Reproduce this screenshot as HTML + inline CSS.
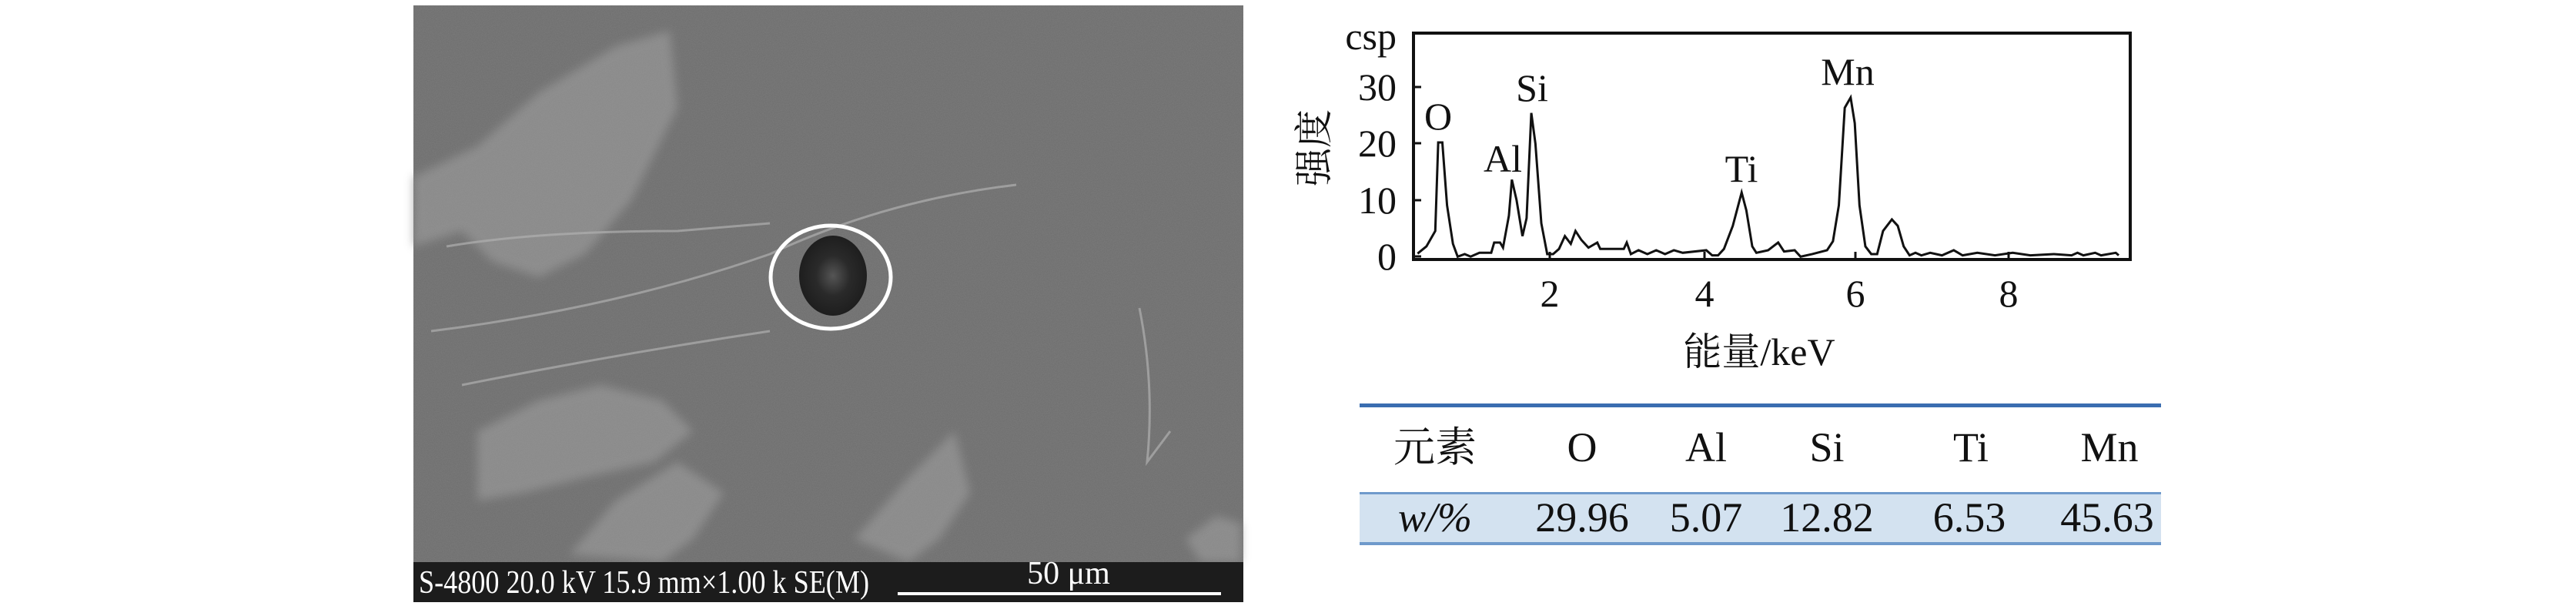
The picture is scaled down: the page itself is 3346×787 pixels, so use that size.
<!DOCTYPE html>
<html><head><meta charset="utf-8"><style>
html,body{margin:0;padding:0;background:#fff;width:3346px;height:787px;overflow:hidden}
svg,text{font-family:"Liberation Serif","Times New Roman","Noto Serif CJK SC","DejaVu Serif",serif !important}
</style></head><body>
<svg width="3346" height="787" viewBox="0 0 3346 787" xmlns="http://www.w3.org/2000/svg" font-family="Liberation Serif, Noto Serif CJK SC, serif">
<defs>
<filter id="n" x="0" y="0" width="100%" height="100%">
<feTurbulence type="fractalNoise" baseFrequency="0.9" numOctaves="2" seed="3"/>
<feColorMatrix type="matrix" values="0 0 0 0 0.43 0 0 0 0 0.43 0 0 0 0 0.43 0 0 0 0.25 0"/>
</filter>
<filter id="b"><feGaussianBlur stdDeviation="6"/></filter>
<radialGradient id="hole" cx="0.5" cy="0.5" r="0.5">
<stop offset="0" stop-color="#555"/><stop offset="0.5" stop-color="#2a2a2a"/><stop offset="1" stop-color="#1e1e1e"/>
</radialGradient>
</defs>
<rect x="537" y="7" width="1078" height="775" fill="#6c6c6c"/>
<g fill="#959595" opacity="0.7" filter="url(#b)">
<polygon points="537,230 620,190 700,120 800,60 870,40 880,140 820,260 760,330 700,360 640,340 600,300 537,320"/>
<polygon points="620,560 700,520 780,500 860,520 900,560 850,600 760,620 680,640 620,650"/>
<polygon points="740,720 800,650 880,600 940,640 900,700 860,730"/>
<polygon points="1110,700 1180,620 1240,560 1260,640 1220,700 1180,730"/>
<polygon points="1540,700 1580,670 1612,680 1612,730 1560,730"/>
</g>
<g stroke="#b0b0b0" stroke-width="3" fill="none" opacity="0.7">
<path d="M580,320 Q700,300 880,300 L1000,290"/>
<path d="M560,430 Q800,400 1000,330 Q1150,260 1320,240"/>
<path d="M600,500 Q800,460 1000,430"/>
<path d="M1480,400 Q1500,500 1490,600 L1520,560"/>
</g>
<rect x="537" y="7" width="1078" height="775" filter="url(#n)"/>
<ellipse cx="1082" cy="358" rx="44" ry="52" fill="url(#hole)"/>
<ellipse cx="1079" cy="360" rx="78" ry="67" fill="none" stroke="#fff" stroke-width="5"/>
<rect x="537" y="730" width="1078" height="52" fill="#1c1c1c"/>
<text x="544" y="770" fill="#fff" font-size="42" textLength="585" lengthAdjust="spacingAndGlyphs">S-4800  20.0 kV  15.9 mm×1.00 k  SE(M)</text>
<text x="1388" y="758" fill="#fff" font-size="42" text-anchor="middle">50 μm</text>
<rect x="1166" y="769" width="420" height="4" fill="#fff"/>

<rect x="1836" y="43" width="931" height="294" fill="none" stroke="#111" stroke-width="4"/>
<g stroke="#111" stroke-width="3">
<line x1="1836" y1="113" x2="1846" y2="113"/><line x1="1836" y1="186" x2="1846" y2="186"/>
<line x1="1836" y1="260" x2="1846" y2="260"/><line x1="1836" y1="333" x2="1846" y2="333"/>
<line x1="2013" y1="337" x2="2013" y2="327"/><line x1="2214" y1="337" x2="2214" y2="327"/>
<line x1="2410" y1="337" x2="2410" y2="327"/><line x1="2609" y1="337" x2="2609" y2="327"/>
</g>
<g font-size="50" fill="#111" text-anchor="end">
<text x="1814" y="64">csp</text>
<text x="1814" y="130">30</text><text x="1814" y="203">20</text>
<text x="1814" y="277">10</text><text x="1814" y="350">0</text>
</g>
<g font-size="50" fill="#111" text-anchor="middle">
<text x="2013" y="398">2</text><text x="2214" y="398">4</text>
<text x="2410" y="398">6</text><text x="2609" y="398">8</text>
<text x="2285" y="474">能量/keV</text>
<text x="1868" y="168">O</text><text x="1952" y="223">Al</text>
<text x="1990" y="131">Si</text><text x="2262" y="236">Ti</text>
<text x="2400" y="110">Mn</text>
</g>
<text transform="translate(1724,192) rotate(-90)" font-size="50" fill="#111" text-anchor="middle">强度</text>
<g transform="translate(1650,0) scale(0.7653,0.3333)">
<polyline fill="none" stroke="#111" stroke-width="3" vector-effect="non-scaling-stroke" points="250,988 265,960 280,900 285,555 292,555 300,800 310,950 318,1000 330,990 340,1000 355,985 375,985 380,945 390,945 395,965 405,840 410,700 418,780 428,920 435,850 443,440 450,560 460,870 470,990 480,990 490,970 500,920 510,950 518,900 528,935 540,965 555,945 560,970 600,970 605,945 612,990 625,975 640,990 655,975 670,990 685,975 700,985 740,975 750,995 760,995 770,970 785,880 800,750 808,820 818,960 825,985 845,975 862,945 872,980 890,975 900,1000 920,990 945,975 955,940 965,800 975,420 985,380 992,480 1000,800 1010,960 1020,990 1030,990 1040,900 1055,855 1065,880 1075,960 1085,995 1095,985 1105,995 1120,985 1140,995 1160,975 1175,995 1200,985 1230,995 1260,985 1290,995 1330,990 1360,995 1370,985 1380,995 1400,985 1410,995 1435,985 1440,995"/>
</g>

<rect x="1766" y="524" width="1041" height="5" fill="#3a6db0"/>
<rect x="1766" y="640" width="1041" height="66" fill="#d3e2f0"/>
<rect x="1766" y="639" width="1041" height="3" fill="#6f9acb"/>
<rect x="1766" y="704" width="1041" height="4" fill="#6f9acb"/>
<g font-size="54" fill="#111" text-anchor="middle">
<text x="1864" y="599">元素</text>
<text x="2055" y="599">O</text><text x="2216" y="599">Al</text>
<text x="2373" y="599">Si</text><text x="2560" y="599">Ti</text><text x="2740" y="599">Mn</text>
<text x="1864" y="690" font-style="italic">w/%</text>
<text x="2055" y="690">29.96</text><text x="2216" y="690">5.07</text>
<text x="2373" y="690">12.82</text><text x="2558" y="690">6.53</text><text x="2737" y="690">45.63</text>
</g>
</svg>
</body></html>
